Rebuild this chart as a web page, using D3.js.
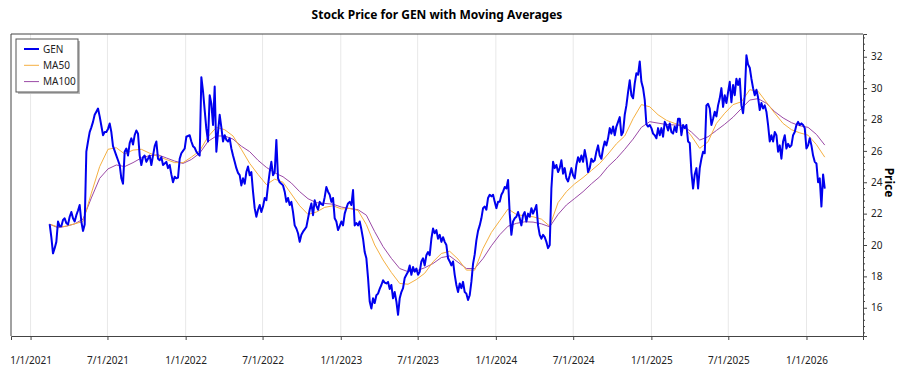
<!DOCTYPE html>
<html>
<head>
<meta charset="utf-8">
<script src="https://cdn.jsdelivr.net/npm/d3@7"></script>
<style>
  body { margin: 0; background: #fff; }
  text { font-family: "Segoe UI", "Noto Sans", sans-serif; }
</style>
</head>
<body>
<svg id="chart" width="900" height="375"></svg>
<script>
// GEN closes, evenly spaced between these two dates
const genFirstDate = "2021-02-15";
const genLastDate = "2026-02-13";
const genValues = [
  21.33, 20.5, 19.47, 19.8, 20.2, 21.5, 21.2, 21.2, 21.6, 21.7,
  21.4, 21.3, 21.8, 22.1, 21.7, 21.5, 21.9, 22.2, 22.55, 21.5,
  20.9, 21.3, 25.95, 26.6, 27.2, 27.5, 27.85, 28.3, 28.5, 28.7,
  28.2, 27.6, 27.0, 27.2, 27.2, 27.4, 27.75, 27.2, 26.3, 26.0,
  25.7, 25.4, 25.1, 24.25, 23.9, 25.95, 26.15, 25.7, 26.5, 26.8,
  26.4, 27.0, 27.3, 27.1, 25.7, 25.1, 25.6, 25.7, 25.3, 25.5,
  25.7, 25.1, 25.7, 26.3, 26.6, 25.5, 25.4, 25.6, 25.1, 25.2,
  25.3, 24.9, 25.1, 24.5, 24.0, 24.35, 24.25, 24.3, 25.5, 25.85,
  26.0, 26.15, 26.9, 26.95, 27.0, 26.6, 26.3, 26.2, 25.95, 25.8,
  // 2022
  25.7, 30.7, 29.8, 28.6, 27.4, 26.6, 29.55, 29.0, 27.65, 30.1,
  25.95, 27.2, 28.3, 27.5, 26.6, 27.0, 26.7, 26.6, 26.8, 26.15,
  25.7, 25.3, 24.9, 24.6, 24.45, 23.8, 24.25, 23.9, 24.65, 25.0,
  24.45, 24.65, 23.4, 22.35, 21.8, 22.25, 22.55, 22.1, 22.45, 23.0,
  22.85, 23.8, 24.65, 25.3, 24.45, 24.65, 26.7, 24.25, 24.0, 23.9,
  23.8, 23.4, 22.75, 23.0, 22.55, 22.75, 22.1, 21.25, 21.05, 20.75,
  20.2, 20.65, 20.85, 21.0, 21.15, 21.7, 22.25, 22.65, 21.9, 22.85,
  22.5, 22.25, 22.75, 22.6, 22.55, 23.05, 23.7, 23.4, 23.2, 22.75,
  23.0, 21.7, 21.5, 20.95, 21.2, 21.5, 21.25, 22.0, 22.35, 22.65,
  22.75, 22.55, 23.5, 21.25, 21.4, 21.25,
  // 2023
  21.5, 21.0, 20.4, 19.55, 19.15, 17.9, 16.4, 15.95, 16.6, 16.3,
  16.8, 16.9, 17.2, 17.45, 17.75, 17.6, 17.55, 17.65, 17.2, 17.45,
  16.6, 17.0, 16.4, 15.55, 16.6, 17.0, 17.25, 17.9, 18.1, 18.3,
  18.7, 18.1, 18.6, 18.3, 18.5, 18.1, 18.3, 18.95, 19.15, 18.7,
  19.35, 19.55, 19.35, 20.4, 21.05, 20.75, 20.95, 20.4, 20.65, 20.2,
  20.5, 20.2, 20.0, 19.15, 18.95, 18.7, 18.95, 18.1, 17.45, 17.0,
  17.55, 17.25, 17.65, 17.0, 16.9, 16.5, 16.8, 17.65, 18.8, 19.4,
  20.3, 20.9, 21.25, 21.7, 22.35, 22.45, 22.25, 23.0, 23.2, 23.1,
  23.2, 22.75, 22.35, 22.75, 22.75, 23.2, 23.4, 23.7, 23.6, 24.15,
  22.0, 20.65, 21.5, 21.7, 21.8, 22.1,
  // 2024
  21.7, 21.25, 21.9, 22.1, 21.5, 22.0, 21.8, 22.35, 22.0, 22.25,
  22.55, 21.25, 20.65, 20.4, 20.65, 20.5, 20.2, 19.8, 20.0, 23.6,
  25.3, 24.9, 25.1, 24.65, 24.9, 25.4, 24.55, 24.9, 24.25, 24.05,
  24.45, 24.9, 24.45, 24.25, 25.1, 25.6, 25.3, 25.7, 25.3, 26.05,
  25.5, 24.65, 24.9, 25.5, 25.3, 25.4, 25.95, 26.35, 25.7, 25.5,
  26.15, 26.6, 26.35, 26.8, 27.45, 27.1, 27.55, 27.0, 27.55, 27.85,
  28.15, 27.0, 27.2, 28.3, 28.9, 29.75, 30.5, 29.55, 29.35, 30.3,
  30.95, 30.85, 31.7, 30.4, 30.0, 29.25, 27.7, 27.55, 27.65, 27.45,
  27.1, 27.0, 26.8, 27.45, 27.0, 27.45, 26.9, 27.85, 27.65, 27.3,
  27.75, 27.2, 27.1, 27.55, 27.2, 28.05,
  // 2025 - 2026
  28.05, 27.0, 27.65, 27.45, 27.65, 26.6, 26.5, 24.65, 23.6, 24.5,
  24.9, 23.6, 24.9, 25.5, 25.95, 25.85, 28.9, 29.0, 28.7, 27.65,
  28.05, 28.5, 28.2, 28.9, 29.35, 30.0, 28.8, 29.55, 29.05, 29.75,
  30.4, 29.1, 30.2, 29.55, 30.6, 30.2, 30.6, 28.9, 28.4, 29.55,
  32.1, 31.5, 31.3, 30.6, 30.0, 29.55, 29.9, 29.4, 28.6, 29.05,
  28.7, 28.9, 28.5, 27.65, 26.6, 27.0, 26.6, 27.2, 27.0, 25.95,
  26.35, 25.5, 26.6, 27.0, 26.15, 26.45, 26.25, 26.35, 27.0, 27.2,
  27.65, 27.85, 27.65, 27.75, 27.65, 27.45, 26.15, 26.35, 26.8, 26.35,
  25.7, 25.3, 25.2, 24.0, 24.25, 22.45, 24.5, 23.6
];

// moving averages at a coarser even spacing over the same dates
const ma50Values = [
  21.33, 21.15, 21.2, 21.35, 21.5, 23.3, 25.0, 26.1, 26.2, 25.8,
  26.05, 26.1, 25.85, 25.65, 25.45, 25.25, 25.25, 25.6, 26.0, 26.9,
  27.5, 27.35, 26.95, 26.1, 25.2, 24.5, 23.85, 24.2, 24.0, 23.25,
  22.5, 21.95, 22.1, 22.4, 22.5, 22.3, 22.33, 22.2, 21.3, 20.0,
  19.05, 18.25, 17.55, 17.5, 17.8, 18.2, 18.93, 19.46, 19.6, 19.1,
  18.4, 18.4, 19.78, 20.8, 21.55, 22.3, 21.95, 21.85, 21.8, 21.65,
  21.2, 22.7, 23.4, 23.9, 24.3, 24.75, 25.2, 25.8, 26.45, 26.95,
  28.05, 28.95, 28.81, 28.3, 27.95, 27.75, 27.6, 26.95, 26.16, 26.58,
  27.75, 28.4, 28.95, 29.13, 29.9, 29.8, 29.1, 28.4, 27.75, 27.35,
  27.15, 27.0, 26.4, 25.6
];
const ma100Values = [
  21.33, 21.1, 21.2, 21.35, 21.65, 23.0, 24.25, 24.85, 25.1, 25.0,
  25.25, 25.55, 25.7, 25.75, 25.55, 25.35, 25.2, 25.45, 25.85, 26.6,
  26.95, 26.95, 26.75, 26.3, 25.95, 25.4, 24.95, 24.6, 24.35, 23.95,
  23.4, 22.95, 22.7, 22.65, 22.6, 22.42, 22.33, 22.25, 21.9, 20.85,
  19.9, 19.15, 18.5, 18.3, 18.35, 18.55, 18.82, 19.2, 19.3, 18.9,
  18.5, 18.5, 19.14, 19.95, 20.65, 21.2, 21.38, 21.48, 21.46, 21.35,
  21.16, 21.95, 22.55, 22.97, 23.4, 23.9, 24.35, 25.0, 25.5, 26.1,
  26.75, 27.5, 27.86, 27.77, 27.68, 27.65, 27.6, 27.2, 26.69, 26.9,
  27.3, 27.7, 28.15, 28.7, 29.24, 29.33, 29.03, 28.5, 28.1, 27.8,
  27.6, 27.5, 27.05, 26.37
];

const xTickLabels = ["1/1/2021", "7/1/2021", "1/1/2022", "7/1/2022", "1/1/2023",
  "7/1/2023", "1/1/2024", "7/1/2024", "1/1/2025", "7/1/2025", "1/1/2026"];
const yTickValues = [16, 18, 20, 22, 24, 26, 28, 30, 32];
const xDomain = ["2020-11-16", "2026-05-14"];
const yDomain = [14.2, 33.45];

const seriesInfo = [
  { name: "GEN", values: genValues, color: "#0000ee", width: 2 },
  { name: "MA50", values: ma50Values, color: "#f5b041", width: 1 },
  { name: "MA100", values: ma100Values, color: "#9b4aa6", width: 1 }
];

const svg = d3.select("#chart");
const margin = { top: 34, right: 37, bottom: 39, left: 11 };
const width = 900, height = 375;

const parseIso = d3.timeParse("%Y-%m-%d");
const parseLabel = d3.timeParse("%m/%d/%Y");

const x = d3.scaleTime()
  .domain(xDomain.map(parseIso))
  .range([margin.left, width - margin.right]);

const y = d3.scaleLinear()
  .domain(yDomain)
  .range([height - margin.bottom, margin.top]);

// index -> date, even spacing between first and last date
function toPoints(values) {
  const idx = d3.scaleLinear()
    .domain([0, values.length - 1])
    .range([parseIso(genFirstDate), parseIso(genLastDate)].map(d => +d));
  return values.map((v, i) => ({ date: new Date(idx(i)), value: v }));
}

// title
svg.append("text")
  .attr("x", 437)
  .attr("y", 19)
  .attr("text-anchor", "middle")
  .style("font-size", "12px")
  .style("font-weight", "bold")
  .text("Stock Price for GEN with Moving Averages");

// vertical grid
const xTickDates = xTickLabels.map(parseLabel);
svg.append("g")
  .selectAll("line")
  .data(xTickDates)
  .join("line")
  .attr("x1", d => x(d)).attr("x2", d => x(d))
  .attr("y1", margin.top).attr("y2", height - margin.bottom)
  .attr("stroke", "#e8e8e8")
  .attr("stroke-width", 1);

// frame: left + top
svg.append("path")
  .attr("d", `M${margin.left},${height - margin.bottom}V${margin.top}H${width - margin.right}`)
  .attr("fill", "none")
  .attr("stroke", "#444")
  .attr("stroke-width", 1);

// x axis
const xAxis = d3.axisBottom(x)
  .tickValues(xTickDates)
  .tickSize(4)
  .tickPadding(17)
  .tickFormat((d, i) => xTickLabels[i]);

const gx = svg.append("g")
  .attr("transform", `translate(0,${height - margin.bottom})`)
  .call(xAxis);
gx.select(".domain").attr("stroke", "#444");
gx.selectAll(".tick line").attr("stroke", "#444");
gx.selectAll("text").style("font-size", "10px").attr("fill", "#222");

// y axis on the right, with minor ticks
const yAxis = d3.axisRight(y)
  .tickValues(yTickValues)
  .tickSize(4)
  .tickPadding(4)
  .tickFormat(d3.format("d"));

const yMinor = d3.range(14.4, 33.4, 0.4).filter(v => Math.abs(v / 2 - Math.round(v / 2)) > 0.01);

const gy = svg.append("g")
  .attr("transform", `translate(${width - margin.right},0)`)
  .call(yAxis);
gy.select(".domain").attr("stroke", "#444");
gy.selectAll(".tick line").attr("stroke", "#444");
gy.selectAll("text").style("font-size", "10px").attr("fill", "#222");

gy.append("g")
  .selectAll("line")
  .data(yMinor)
  .join("line")
  .attr("x1", 0).attr("x2", 2)
  .attr("y1", d => y(d)).attr("y2", d => y(d))
  .attr("stroke", "#444");

svg.append("text")
  .attr("transform", `translate(${885},${height / 2 - 5}) rotate(90)`)
  .attr("text-anchor", "middle")
  .style("font-size", "12px")
  .style("font-weight", "bold")
  .text("Price");

// lines
const line = d3.line()
  .x(d => x(d.date))
  .y(d => y(d.value));

const plot = svg.append("g");
seriesInfo.slice().reverse().forEach(s => {
  plot.append("path")
    .datum(toPoints(s.values))
    .attr("fill", "none")
    .attr("stroke", s.color)
    .attr("stroke-width", s.width)
    .attr("stroke-linejoin", "round")
    .attr("d", line);
});

// legend
const legend = svg.append("g").attr("transform", "translate(16,39)");
legend.append("rect")
  .attr("x", 2).attr("y", 2)
  .attr("width", 62).attr("height", 53)
  .attr("fill", "#bbb");
legend.append("rect")
  .attr("width", 62).attr("height", 53)
  .attr("fill", "#fff")
  .attr("stroke", "#555");

seriesInfo.forEach((s, i) => {
  const yy = 10 + i * 16.3;
  legend.append("line")
    .attr("x1", 8).attr("x2", 23)
    .attr("y1", yy).attr("y2", yy)
    .attr("stroke", s.color)
    .attr("stroke-width", s.width);
  legend.append("text")
    .attr("x", 27)
    .attr("y", yy + 3.5)
    .style("font-size", "10px")
    .attr("fill", "#222")
    .text(s.name);
});
</script>
</body>
</html>
